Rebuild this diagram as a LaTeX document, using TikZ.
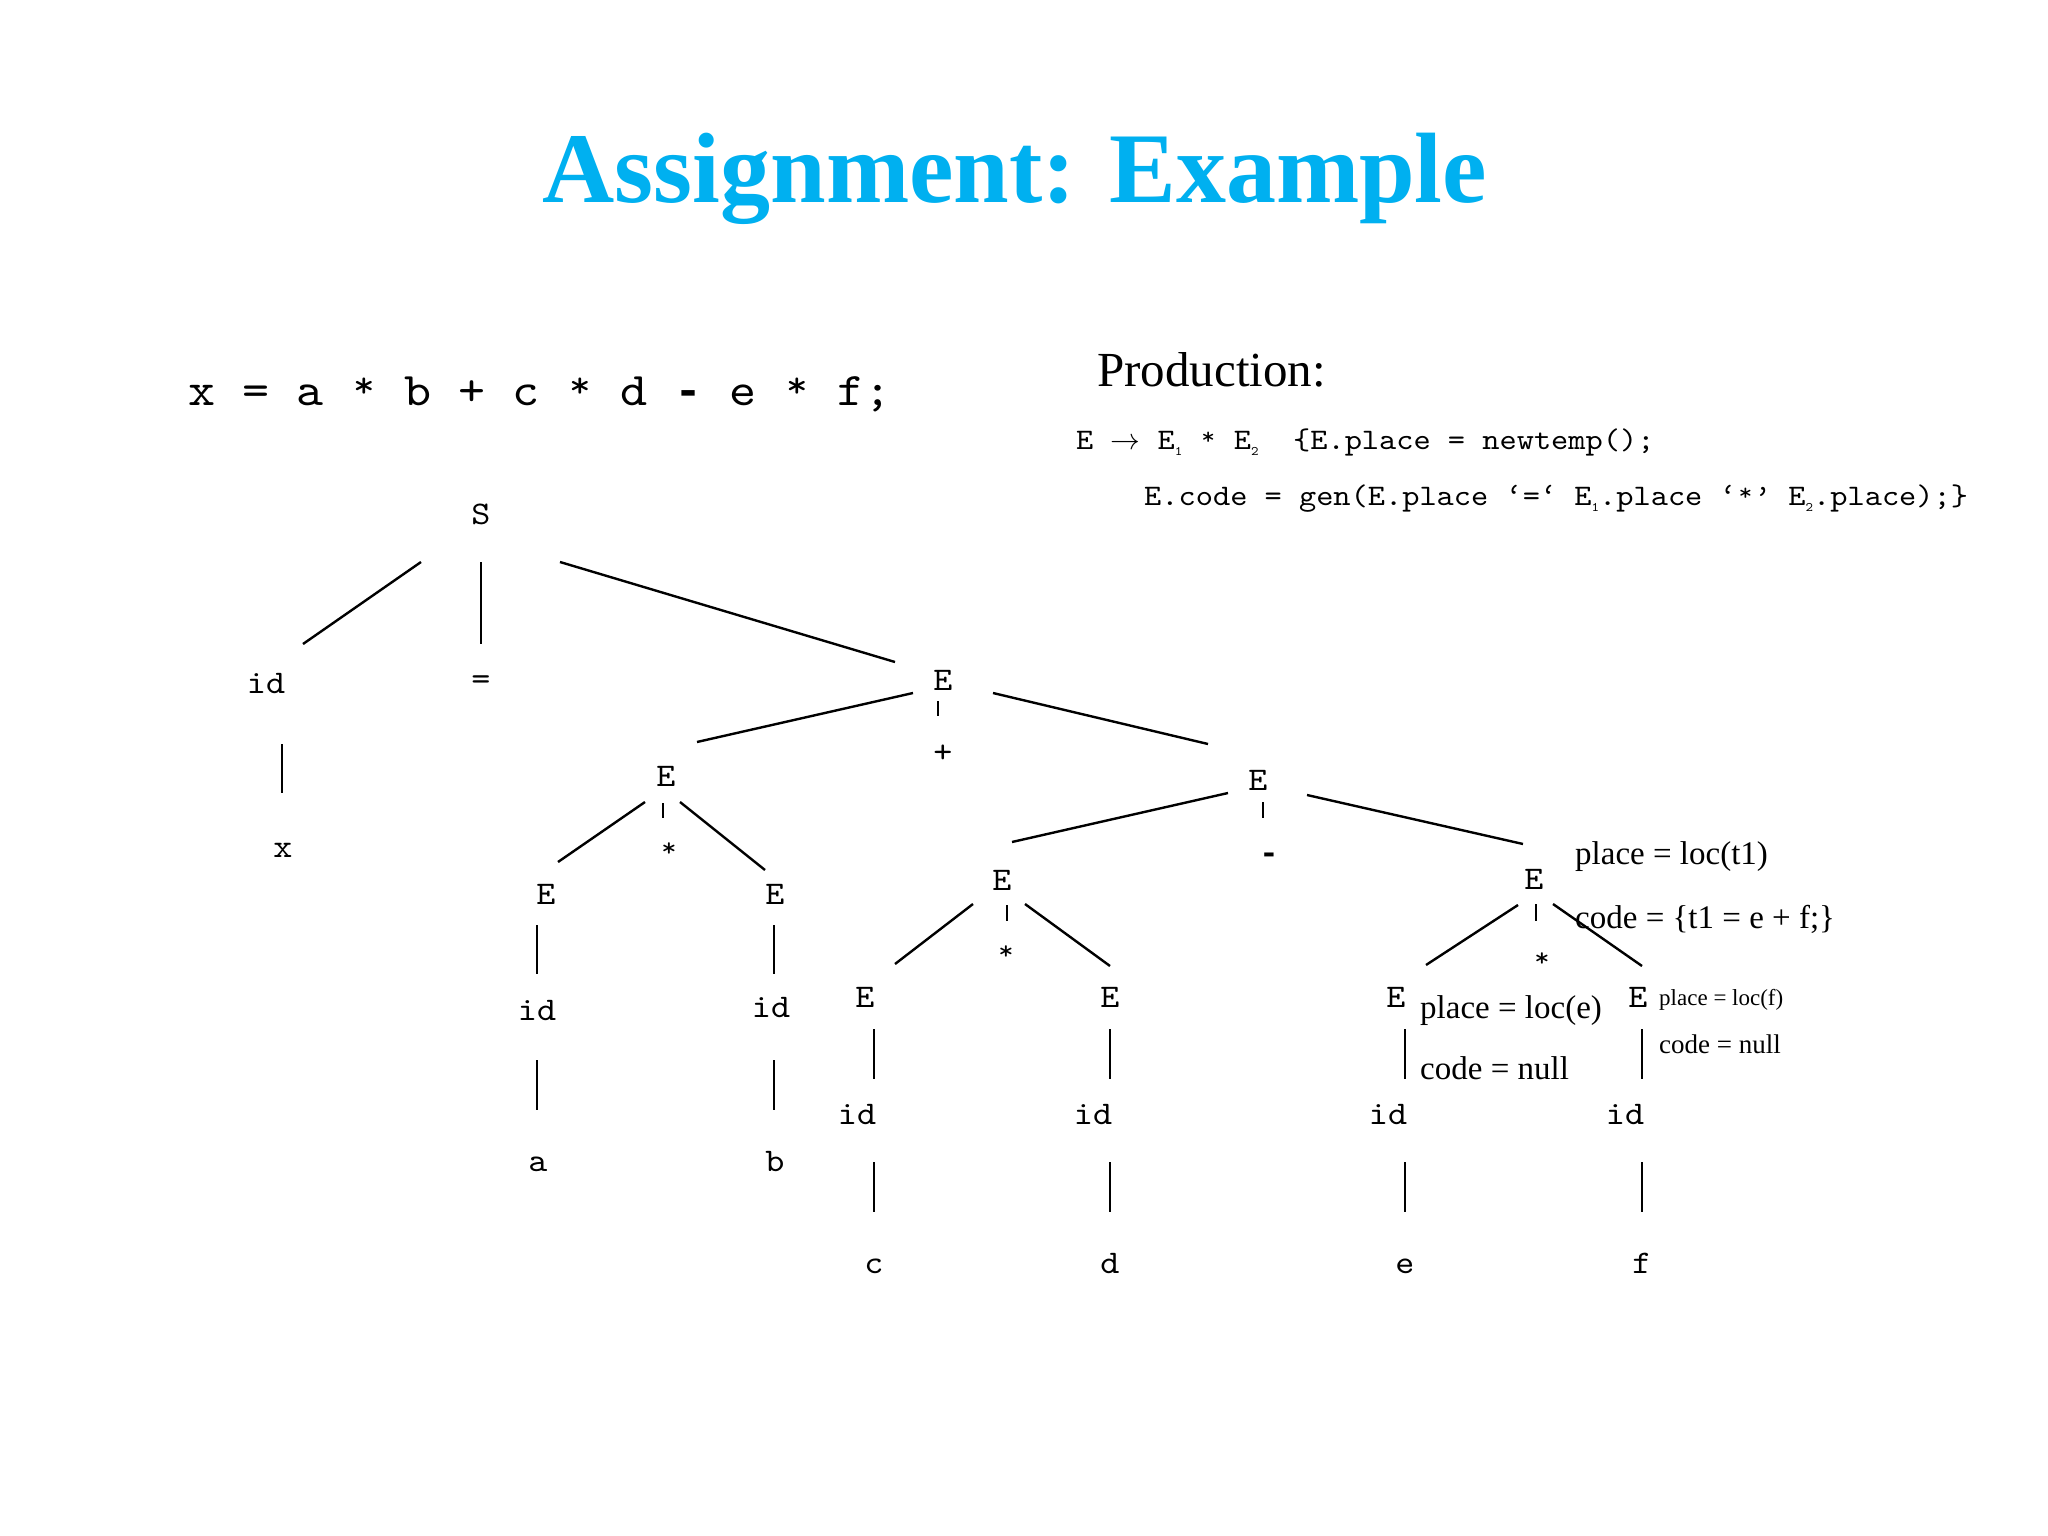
\RequirePackage{fix-cm}
\documentclass[tikz,border=0pt]{standalone}
\usepackage{fontspec}
\setmainfont{Liberation Serif}
\setmonofont{lmmono10-regular.otf}[FakeStretch=1.1]
\newfontfamily\dashfont{Liberation Mono}
\definecolor{titleblue}{RGB}{0,176,240}
\newcommand\subdig[1]{\raisebox{-6pt}{\fontsize{13}{13}\selectfont #1}}
\newcommand\bdash{{\dashfont\bfseries -}}
\newcommand\cstar{\makebox[0.5775em]{\raisebox{0.15em}{\scalebox{0.8}{*}}}}
\begin{document}
\begin{tikzpicture}[x=1pt,y=-1pt,
  lbl/.style={font=\fontsize{33}{33}\selectfont\ttfamily, anchor=base, inner sep=0pt},
  edge/.style={line width=2.4pt, line cap=butt},
  ann/.style={font=\fontsize{33}{33}\selectfont, anchor=base west, inner sep=0pt},
  annsmall/.style={ann, font=\fontsize{23}{23}\selectfont},
  annmid/.style={ann, font=\fontsize{27}{27}\selectfont},
  code/.style={font=\fontsize{29.8}{29.8}\selectfont\ttfamily, anchor=base west, inner sep=0pt}]
\useasboundingbox (0,0) rectangle (2048,1536);
\fill[white] (0,0) rectangle (2048,1536);

% title
\node[anchor=base, inner sep=0pt, text=titleblue, font=\fontsize{100}{100}\selectfont\bfseries] (title) at (1015,202) {Assignment: Example};

% expression
\node[anchor=base west, inner sep=0pt, font=\fontsize{46.8}{46.8}\selectfont\ttfamily] (expr) at (188,405) {x = a \cstar{} b + c \cstar{} d \bdash{} e \cstar{} f;};

% production
\node[anchor=base west, inner sep=0pt, font=\fontsize{49}{49}\selectfont] (prod) at (1097,386) {Production:};
\node[code] (rule1) at (1076,449) {E $\rightarrow$ E\subdig{1} \cstar{} E\subdig{2}\ \ \{E.place = newtemp();};
\node[code] (rule2) at (1144,505) {E.code = gen(E.place ‘=‘ E\subdig{1}.place ‘\cstar’ E\subdig{2}.place);\}};

% tree labels
\node[lbl] (S) at (481,524) {S};
\node[lbl] (id0) at (266,693) {id};
\node[lbl] (eq) at (481,689) {=};
\node[lbl] (E0) at (943,690) {E};
\node[lbl] (x) at (283,857) {x};
\node[lbl] (plus) at (943,762) {+};
\node[lbl] (E1) at (666,786) {E};
\node[lbl] (E2) at (1258,790) {E};
\node[lbl] (st1) at (669,861) {\cstar};
\node[lbl] (E3) at (546,904) {E};
\node[lbl] (E4) at (775,904) {E};
\node[lbl] (id3) at (537,1020) {id};
\node[lbl] (id4) at (771,1017) {id};
\node[lbl] (a) at (538,1171) {a};
\node[lbl] (b) at (775,1171) {b};
\node[lbl] (minus) at (1269,863) {\bdash};
\node[lbl] (E5) at (1002,890) {E};
\node[lbl] (st5) at (1006,964) {\cstar};
\node[lbl] (E7) at (865,1007) {E};
\node[lbl] (E8) at (1110,1007) {E};
\node[lbl] (id7) at (857,1124) {id};
\node[lbl] (id8) at (1093,1124) {id};
\node[lbl] (c) at (874,1273) {c};
\node[lbl] (d) at (1110,1273) {d};
\node[lbl] (E6) at (1534,889) {E};
\node[lbl] (st6) at (1542,971) {\cstar};
\node[lbl] (E9) at (1396,1007) {E};
\node[lbl] (E10) at (1638,1007) {E};
\node[lbl] (id9) at (1388,1124) {id};
\node[lbl] (id10) at (1625,1124) {id};
\node[lbl] (e) at (1405,1273) {e};
\node[lbl] (f) at (1642,1273) {f};

% annotations
\node[ann] (ann1) at (1575,864) {place = loc(t1)};
\node[ann] (ann2) at (1575,928) {code = \{t1 = e + f;\}};
\node[ann] (ann3) at (1420,1018) {place = loc(e)};
\node[ann] (ann4) at (1420,1079) {code = null};
\node[annsmall] (ann5) at (1659,1005) {place = loc(f)};
\node[annmid] (ann6) at (1659,1053) {code = null};

% connectors
\foreach \n/\ax/\ay/\bx/\by in {
  sid/421/562/303/644, seq/481/562/481/644, sE/560/562/895/662,
  idx/282/744/282/793,
  Ezl/913/693/697/742, Ezm/938/701/938/716, Ezr/993/693/1208/744,
  Eal/645/802/558/862, Eam/663/803/663/818, Ear/680/802/765/870,
  Ecv/537/925/537/974, Edv/774/925/774/974,
  idcv/537/1060/537/1110, iddv/774/1060/774/1110,
  Ebl/1228/793/1012/842, Ebm/1263/802/1263/818, Ebr/1307/795/1523/844,
  Eel/973/904/895/964, Eem/1007/905/1007/921, Eer/1025/904/1110/966,
  Egv/874/1029/874/1079, Ehv/1110/1029/1110/1079,
  idgv/874/1162/874/1212, idhv/1110/1162/1110/1212,
  Efl/1518/905/1426/965, Efm/1536/904/1536/921, Efr/1553/904/1642/966,
  Eiv/1405/1029/1405/1079, Ejv/1642/1029/1642/1079,
  idiv/1405/1162/1405/1212, idjv/1642/1162/1642/1212} {
  \coordinate (\n-a) at (\ax,\ay);
  \coordinate (\n-b) at (\bx,\by);
  \draw[edge] (\n-a) -- (\n-b);
}
\end{tikzpicture}
\end{document}
